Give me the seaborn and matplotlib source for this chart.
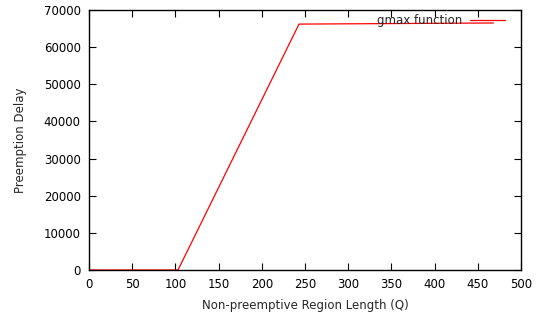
import pandas as pd
import matplotlib
matplotlib.use("Agg")
import matplotlib.pyplot as plt
import seaborn as sns

# Data
region_len = [0, 103, 243, 468]
delay = [0, 0, 66200, 66500]

df = pd.DataFrame({"Q": region_len, "delay": delay})

sns.set_style("ticks")
plt.rcParams["font.family"] = ["DejaVu Sans"]

fig = plt.figure(figsize=(5.47, 3.21), dpi=100)
ax = fig.add_axes([0.1627, 0.1589, 0.79, 0.81])

sns.lineplot(data=df, x="Q", y="delay", color="red", linewidth=0.9,
             label="gmax function", ax=ax)

ax.set_xlim(0, 500)
ax.set_ylim(0, 70000)
ax.set_xticks(range(0, 501, 50))
ax.set_yticks(range(0, 70001, 10000))
ax.tick_params(direction="in", top=True, right=True, labelsize=8.5, length=5,
               width=0.8, pad=6, colors="black")
for s in ax.spines.values():
    s.set_linewidth(1.0)
    s.set_color("black")

ax.set_xlabel("Non-preemptive Region Length (Q)", fontsize=8.5)
ax.set_ylabel("Preemption Delay", fontsize=8.5)
ax.xaxis.set_label_coords(0.5, -0.112)
ax.yaxis.set_label_coords(-0.144, 0.5)

ax.legend(loc="upper right", frameon=False, markerfirst=False, fontsize=8.5,
          handlelength=3.0, handletextpad=0.65, borderpad=0, borderaxespad=0,
          bbox_to_anchor=(0.963, 0.985))

fig.savefig("out.png", dpi=100)
